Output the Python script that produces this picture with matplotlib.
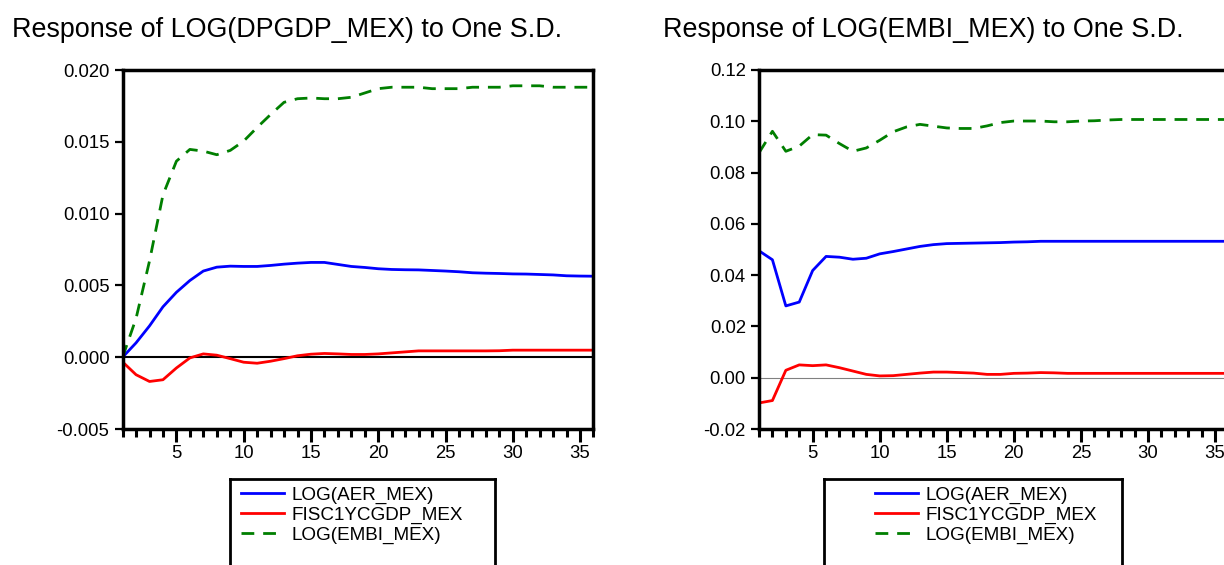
import numpy as np
import matplotlib
matplotlib.use("Agg")
import matplotlib.pyplot as plt
from matplotlib.ticker import MultipleLocator, FixedLocator

plt.rcParams['font.family'] = ['Liberation Sans', 'DejaVu Sans']
plt.rcParams['axes.unicode_minus'] = False

periods = np.arange(1, 37)

# response of LOG(DPGDP_MEX)
gdp_aer = [0.0, 0.0010, 0.00218, 0.00351, 0.00452, 0.00534, 0.0060, 0.00627, 0.00634, 0.00632,
           0.00632, 0.00639, 0.00648, 0.00655, 0.0066, 0.0066, 0.00646, 0.00632, 0.00625, 0.00616,
           0.00611, 0.00609, 0.00608, 0.00604, 0.0060, 0.00595, 0.00588, 0.00585, 0.00583, 0.0058,
           0.00579, 0.00576, 0.00573, 0.00567, 0.00565, 0.00564]
gdp_fisc = [-0.00033, -0.00122, -0.00169, -0.00157, -0.00075, -0.00005, 0.00023, 0.00014, -0.0001, -0.00035,
            -0.00042, -0.00028, -0.0001, 0.0001, 0.00021, 0.00026, 0.00023, 0.00019, 0.00019, 0.00023,
            0.0003, 0.00037, 0.00044, 0.00044, 0.00044, 0.00044, 0.00044, 0.00044, 0.00045, 0.00049,
            0.00049, 0.00049, 0.00049, 0.00049, 0.00049, 0.00049]
gdp_embi = [0.0, 0.0027, 0.0067, 0.0113, 0.01365, 0.01447, 0.01435, 0.0141, 0.0144, 0.01505,
            0.0160, 0.0169, 0.01775, 0.0180, 0.01805, 0.0180, 0.0180, 0.0181, 0.0184, 0.0187,
            0.0188, 0.0188, 0.0188, 0.0187, 0.0187, 0.0187, 0.0188, 0.0188, 0.0188, 0.0189,
            0.0189, 0.0189, 0.0188, 0.0188, 0.0188, 0.0188]

# response of LOG(EMBI_MEX)
embi_aer = [0.0495, 0.046, 0.028, 0.0295, 0.0418, 0.0473, 0.0470, 0.0462, 0.0466, 0.0483,
            0.0492, 0.0502, 0.0512, 0.0519, 0.0523, 0.0524, 0.0525, 0.0526, 0.0527, 0.0529,
            0.0530, 0.0532, 0.0532, 0.0532, 0.0532, 0.0532, 0.0532, 0.0532, 0.0532, 0.0532,
            0.0532, 0.0532, 0.0532, 0.0532, 0.0532, 0.0532]
embi_fisc = [-0.00985, -0.0089, 0.0029, 0.0050, 0.0047, 0.0050, 0.0039, 0.0026, 0.0013, 0.0007,
             0.0008, 0.0013, 0.0018, 0.0022, 0.0022, 0.0020, 0.0018, 0.0013, 0.0013, 0.0017,
             0.0018, 0.0020, 0.0019, 0.0017, 0.0017, 0.0017, 0.0017, 0.0017, 0.0017, 0.0017,
             0.0017, 0.0017, 0.0017, 0.0017, 0.0017, 0.0017]
embi_embi = [0.0877, 0.0961, 0.0883, 0.0903, 0.0948, 0.0946, 0.0913, 0.0883, 0.0896, 0.0926,
             0.0959, 0.0978, 0.0988, 0.0981, 0.0974, 0.0972, 0.0972, 0.0982, 0.0995, 0.1001,
             0.1001, 0.1001, 0.0998, 0.0998, 0.1001, 0.1002, 0.1005, 0.1007, 0.1007, 0.1007,
             0.1007, 0.1007, 0.1007, 0.1007, 0.1007, 0.1007]

labels = ["LOG(AER_MEX)", "FISC1YCGDP_MEX", "LOG(EMBI_MEX)"]
titles = ["Response of LOG(DPGDP_MEX) to One S.D.", "Response of LOG(EMBI_MEX) to One S.D."]

W, H = 1224, 565
fig = plt.figure(figsize=(W / 100, H / 100), dpi=100)


def box(x0, y0, x1, y1):
    return [x0 / W, 1 - y1 / H, (x1 - x0) / W, (y1 - y0) / H]


def panel(rect, series, ylim, ystep, fmt, zero_color, zero_lw):
    ax = fig.add_axes(rect)
    ax.axhline(0, color=zero_color, lw=zero_lw, zorder=1)
    l1, = ax.plot(periods, series[0], color="#0000ff", lw=2.0)
    l2, = ax.plot(periods, series[1], color="#ff0000", lw=2.0)
    l3, = ax.plot(periods, series[2], color="#007f00", lw=2.0, dashes=(4.6, 3.2))
    ax.set_xlim(1, 36)
    ax.set_ylim(*ylim)
    ax.xaxis.set_major_locator(FixedLocator([5, 10, 15, 20, 25, 30, 35]))
    ax.xaxis.set_minor_locator(FixedLocator([i for i in range(1, 37) if i % 5]))
    ax.yaxis.set_major_locator(MultipleLocator(ystep))
    ax.yaxis.set_major_formatter(fmt)
    ax.tick_params(axis="x", which="major", length=9.5, width=2.2, pad=2, labelsize=13.3, direction="out")
    ax.tick_params(axis="x", which="minor", length=5.8, width=2.2, direction="out")
    ax.tick_params(axis="y", length=6, width=1.6, pad=3.5, labelsize=13.3, direction="out")
    for s in ax.spines.values():
        s.set_linewidth(2.5)
    return ax, [l1, l2, l3]


def legend_box(rect, handles, x_anchor):
    lax = fig.add_axes(rect)
    lax.set_xticks([])
    lax.set_yticks([])
    for s in lax.spines.values():
        s.set_linewidth(2.0)
    lax.legend(handles, labels, loc="upper left", bbox_to_anchor=(x_anchor, 0.94),
               frameon=False, fontsize=13.6, labelspacing=0.15, handlelength=2.3,
               handletextpad=0.4, borderpad=0, borderaxespad=0)


ax1, h1 = panel(box(122.6, 70, 593.5, 429), [gdp_aer, gdp_fisc, gdp_embi],
                (-0.005, 0.020), 0.005, "{x:.3f}", "black", 1.5)
ax2, h2 = panel(box(759, 70, 1228.5, 429), [embi_aer, embi_fisc, embi_embi],
                (-0.02, 0.12), 0.02, "{x:.2f}", "#808080", 0.8)

legend_box(box(230, 479, 495, 600), h1, 0.04)
legend_box(box(824, 479, 1122, 600), h2, 0.17)

fig.text(12 / W, 1 - 37 / H, titles[0], fontsize=19.4, va="baseline", ha="left")
fig.text(663 / W, 1 - 37 / H, titles[1], fontsize=19.4, va="baseline", ha="left")

fig.savefig("out.png", dpi=100)
